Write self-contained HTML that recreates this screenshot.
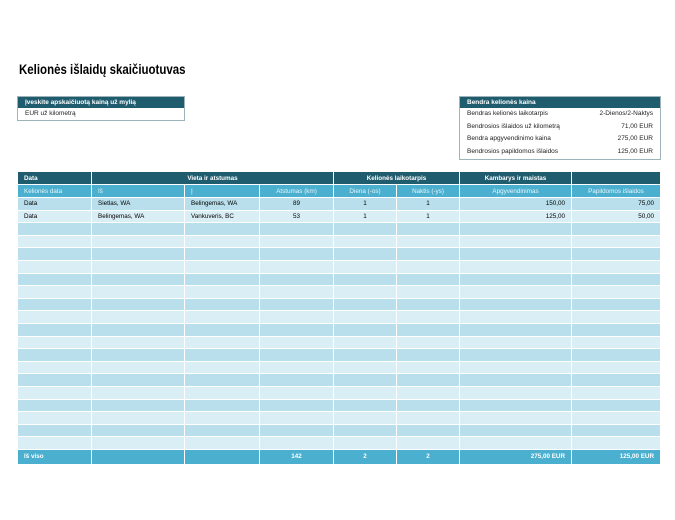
<!DOCTYPE html><html><head><style>
body{margin:0;width:675px;height:520px;background:#fff;font-family:"Liberation Sans",sans-serif;position:relative;overflow:hidden}
h1{position:absolute;left:19px;top:61px;margin:0;font-size:14px;font-weight:bold;color:#000;transform:scaleX(0.82);transform-origin:0 0;white-space:nowrap}
.box{position:absolute;border:1px solid #9fb3bb;font-size:6.5px}
.box .h{background:#1f5c6e;color:#fff;font-weight:bold;height:11px;line-height:11px;padding-left:7px}
.box .r{height:12.5px;line-height:12.5px;padding:0 7px;display:flex;justify-content:space-between;color:#222}
table{position:absolute;left:17px;top:171px;border-collapse:collapse;table-layout:fixed;font-size:6.3px}
td{border:1px solid #fff;padding:0 6px;height:11.6px;white-space:nowrap;overflow:hidden}
tr.h1 td{background:#1f5c6e;color:#fff;font-weight:bold;height:12px;text-align:center}
tr.h2 td{background:#4bafcf;color:#e8f6fb;height:12px;text-align:center}
tr.o td{background:#b8dfeb}tr.e td{background:#daeef5}
tr.t td{background:#4bafcf;color:#fff;height:14px;font-weight:bold}
.c{text-align:center}.rt{text-align:right}.l{text-align:left!important}
</style></head><body>
<h1>Kelionės išlaidų skaičiuotuvas</h1>
<div class="box" style="left:17px;top:96px;width:166px;height:23px">
<div class="h">Įveskite apskaičiuotą kainą už mylią</div>
<div class="r" style="height:12px;line-height:12px">EUR už kilometrą</div></div>
<div class="box" style="left:459px;top:96px;width:200px;height:62px">
<div class="h">Bendra kelionės kaina</div>
<div class="r"><span>Bendras kelionės laikotarpis</span><span>2-Dienos/2-Naktys</span></div>
<div class="r"><span>Bendrosios išlaidos už kilometrą</span><span>71,00 EUR</span></div>
<div class="r"><span>Bendra apgyvendinimo kaina</span><span>275,00 EUR</span></div>
<div class="r"><span>Bendrosios papildomos išlaidos</span><span>125,00 EUR</span></div></div>
<table>
<colgroup><col style="width:74px"><col style="width:93px"><col style="width:75px"><col style="width:74px"><col style="width:63px"><col style="width:63px"><col style="width:112px"><col style="width:89px"></colgroup>
<tr class="h1"><td class="l">Data</td><td colspan="3">Vieta ir atstumas</td><td colspan="2">Kelionės laikotarpis</td><td>Kambarys ir maistas</td><td></td></tr>
<tr class="h2"><td class="l">Kelionės data</td><td class="l">Iš</td><td class="l">Į</td><td>Atstumas (km)</td><td>Diena (-os)</td><td>Naktis (-ys)</td><td>Apgyvendinimas</td><td>Papildomos išlaidos</td></tr>
<tr class="o"><td>Data</td><td>Sietlas, WA</td><td>Belingemas, WA</td><td class="c">89</td><td class="c">1</td><td class="c">1</td><td class="rt">150,00</td><td class="rt">75,00</td></tr>
<tr class="e"><td>Data</td><td>Belingemas, WA</td><td>Vankuveris, BC</td><td class="c">53</td><td class="c">1</td><td class="c">1</td><td class="rt">125,00</td><td class="rt">50,00</td></tr>
<tr class="o"><td></td><td></td><td></td><td></td><td></td><td></td><td></td><td></td></tr>
<tr class="e"><td></td><td></td><td></td><td></td><td></td><td></td><td></td><td></td></tr>
<tr class="o"><td></td><td></td><td></td><td></td><td></td><td></td><td></td><td></td></tr>
<tr class="e"><td></td><td></td><td></td><td></td><td></td><td></td><td></td><td></td></tr>
<tr class="o"><td></td><td></td><td></td><td></td><td></td><td></td><td></td><td></td></tr>
<tr class="e"><td></td><td></td><td></td><td></td><td></td><td></td><td></td><td></td></tr>
<tr class="o"><td></td><td></td><td></td><td></td><td></td><td></td><td></td><td></td></tr>
<tr class="e"><td></td><td></td><td></td><td></td><td></td><td></td><td></td><td></td></tr>
<tr class="o"><td></td><td></td><td></td><td></td><td></td><td></td><td></td><td></td></tr>
<tr class="e"><td></td><td></td><td></td><td></td><td></td><td></td><td></td><td></td></tr>
<tr class="o"><td></td><td></td><td></td><td></td><td></td><td></td><td></td><td></td></tr>
<tr class="e"><td></td><td></td><td></td><td></td><td></td><td></td><td></td><td></td></tr>
<tr class="o"><td></td><td></td><td></td><td></td><td></td><td></td><td></td><td></td></tr>
<tr class="e"><td></td><td></td><td></td><td></td><td></td><td></td><td></td><td></td></tr>
<tr class="o"><td></td><td></td><td></td><td></td><td></td><td></td><td></td><td></td></tr>
<tr class="e"><td></td><td></td><td></td><td></td><td></td><td></td><td></td><td></td></tr>
<tr class="o"><td></td><td></td><td></td><td></td><td></td><td></td><td></td><td></td></tr>
<tr class="e"><td></td><td></td><td></td><td></td><td></td><td></td><td></td><td></td></tr>
<tr class="t"><td>Iš viso</td><td></td><td></td><td class="c">142</td><td class="c">2</td><td class="c">2</td><td class="rt">275,00 EUR</td><td class="rt">125,00 EUR</td></tr>
</table>
</body></html>
